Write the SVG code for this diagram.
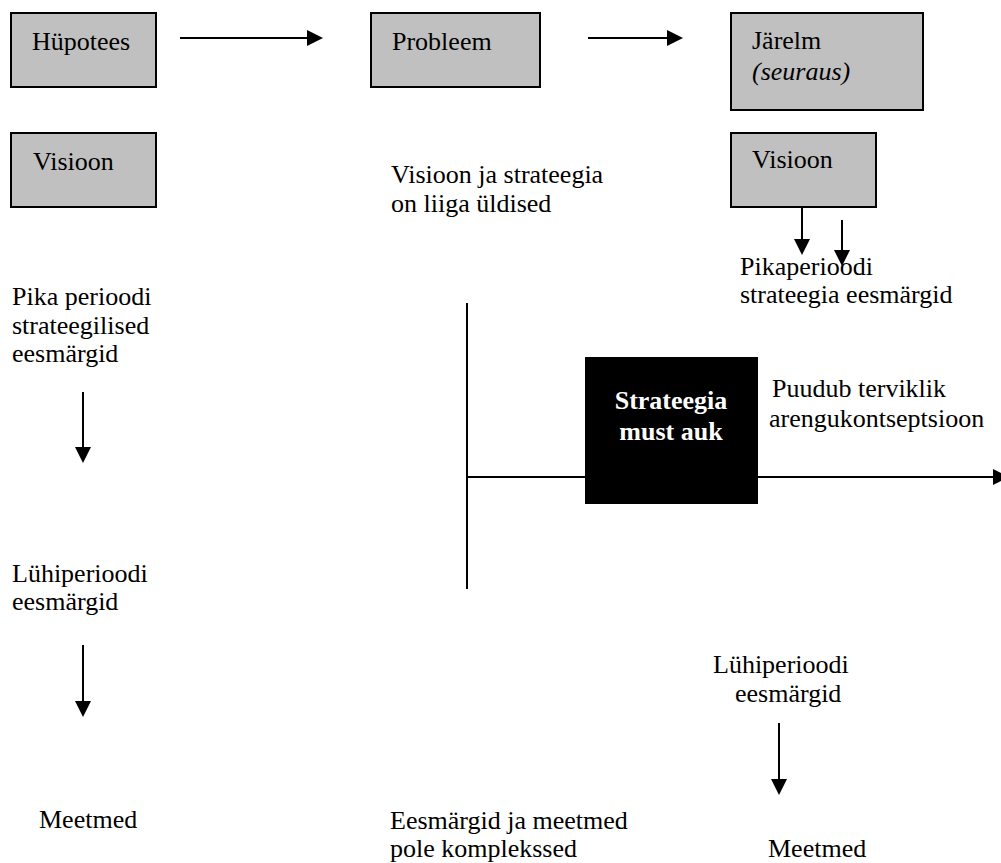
<svg xmlns="http://www.w3.org/2000/svg" width="1001" height="863" viewBox="0 0 1001 863">
  <style>
    text { font-family: "Liberation Serif", "Times New Roman", serif; font-size: 26px; fill: #000; }
    .box { fill: #c0c0c0; stroke: #000; stroke-width: 2; }
    .hole { fill: #000; }
    .hole-label { fill: #fff; font-weight: bold; text-anchor: middle; }
    .conn { stroke: #000; stroke-width: 2; fill: none; }
    .arrow { marker-end: url(#head); }
  </style>
  <defs>
    <marker id="head" markerUnits="userSpaceOnUse" markerWidth="17" markerHeight="17" refX="14" refY="8" orient="auto">
      <path d="M0,0 L16,8 L0,16 Z" fill="#000"/>
    </marker>
  </defs>

  <rect width="1001" height="863" fill="#fff"/>

  <!-- top row -->
  <g id="hypotees">
    <rect class="box" x="11" y="13" width="145" height="74"/>
    <text x="32" y="50">Hüpotees</text>
  </g>
  <g id="probleem">
    <rect class="box" x="371" y="13" width="169" height="74"/>
    <text x="392" y="50">Probleem</text>
  </g>
  <g id="jarelm">
    <rect class="box" x="731" y="13" width="192" height="97"/>
    <text x="752" y="49">Järelm</text>
    <text x="752" y="80" font-style="italic">(seuraus)</text>
  </g>

  <!-- left column -->
  <g id="visioon-left">
    <rect class="box" x="11" y="133" width="145" height="74"/>
    <text x="33" y="170">Visioon</text>
  </g>
  <g id="pika-perioodi">
    <text x="12" y="305">Pika perioodi</text>
    <text x="12" y="334">strateegilised</text>
    <text x="12" y="362">eesmärgid</text>
  </g>
  <g id="luhiperioodi-left">
    <text x="12" y="582">Lühiperioodi</text>
    <text x="12" y="610">eesmärgid</text>
  </g>
  <g id="meetmed-left">
    <text x="39" y="828">Meetmed</text>
  </g>

  <!-- middle column -->
  <g id="liiga-uldised">
    <text x="391" y="183">Visioon ja strateegia</text>
    <text x="391" y="212">on liiga üldised</text>
  </g>
  <g id="must-auk">
    <rect class="hole" x="585" y="357" width="173" height="147"/>
    <text class="hole-label" x="671" y="409">Strateegia</text>
    <text class="hole-label" x="671" y="440">must auk</text>
  </g>
  <g id="pole-komplekssed">
    <text x="390" y="829">Eesmärgid ja meetmed</text>
    <text x="390" y="857">pole komplekssed</text>
  </g>

  <!-- right column -->
  <g id="visioon-right">
    <rect class="box" x="731" y="133" width="145" height="74"/>
    <text x="752" y="168">Visioon</text>
  </g>
  <g id="pikaperioodi-right">
    <text x="740" y="275">Pikaperioodi</text>
    <text x="740" y="303">strateegia eesmärgid</text>
  </g>
  <g id="terviklik">
    <text x="772" y="397">Puudub terviklik</text>
    <text x="769" y="427">arengukontseptsioon</text>
  </g>
  <g id="luhiperioodi-right">
    <text x="713" y="673">Lühiperioodi</text>
    <text x="735" y="702">eesmärgid</text>
  </g>
  <g id="meetmed-right">
    <text x="768" y="857">Meetmed</text>
  </g>

  <!-- connectors -->
  <g id="connectors">
    <line class="conn arrow" x1="180" y1="38" x2="321" y2="38"/>
    <line class="conn arrow" x1="588" y1="38" x2="681" y2="38"/>
    <line class="conn arrow" x1="802" y1="208" x2="802" y2="253"/>
    <line class="conn arrow" x1="842" y1="220" x2="842" y2="264"/>
    <line class="conn arrow" x1="83" y1="392" x2="83" y2="461"/>
    <line class="conn arrow" x1="83" y1="645" x2="83" y2="715"/>
    <line class="conn arrow" x1="779" y1="723" x2="779" y2="793"/>
    <line class="conn" x1="467" y1="303" x2="467" y2="589" stroke-width="2.5"/>
    <line class="conn" x1="467" y1="477" x2="585" y2="477"/>
    <line class="conn arrow" x1="758" y1="477" x2="1007" y2="477"/>
  </g>
</svg>
